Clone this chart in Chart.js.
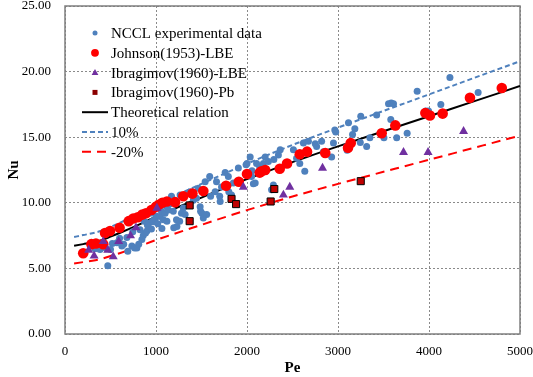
<!DOCTYPE html>
<html>
<head>
<meta charset="utf-8">
<title>Nu vs Pe</title>
<script src="https://cdn.jsdelivr.net/npm/chart.js"></script>
<style>
  html, body { margin: 0; padding: 0; background: #fff; }
  #wrap { width: 533px; height: 377px; }
</style>
</head>
<body>
<div id="wrap"><canvas id="chart" width="533" height="377"></canvas></div>
<script>
var ncclPe = [330, 370, 385, 430, 470, 500, 520, 570, 600, 625, 645, 680, 690, 735, 745, 765, 790, 810, 825, 830,
  845, 860, 870, 885, 900, 905, 920, 935, 950, 960, 975, 990, 1000, 1020, 1045, 1060, 1065, 1080, 1100, 1117,
  1120, 1135, 1150, 1170, 1190, 1195, 1225, 1230, 1260, 1265, 1280, 1300, 1320, 1340, 1375, 1410, 1445, 1465, 1485, 1490,
  1505, 1520, 1540, 1557, 1590, 1600, 1650, 1665, 1700, 1705, 1720, 1760, 1795, 1800, 1830, 1850, 1905, 1990, 2000, 2035,
  2050, 2055, 2070, 2090, 2105, 2140, 2180, 2200, 2205, 2235, 2270, 2290, 2295, 2345, 2365, 2510, 2545, 2580, 2620, 2635,
  2675, 2750, 2765, 2820, 2840, 2930, 2950, 2965, 2975, 3095, 3100, 3115, 3160, 3185, 3245, 3250, 3315, 3350, 3425, 3505,
  3555, 3580, 3585, 3610, 3645, 3760, 3870, 3965, 3995, 4130, 4230, 4540];
var ncclNu = [6.5, 6.6, 6.45, 6.6, 5.2, 6.45, 6.9, 6.95, 7.3, 6.7, 6.85, 7.35, 6.3, 6.7, 7.8, 6.55, 6.55, 6.85, 7.95, 8.9,
  7.2, 7.5, 8.6, 7.7, 7.85, 8.3, 8.45, 9.2, 8.0, 8.6, 8.55, 8.75, 9.0, 8.4, 8.95, 9.35, 8.05, 8.7, 9.2, 9.7,
  8.6, 9.45, 9.9, 10.5, 9.35, 8.1, 8.7, 8.2, 8.6, 10.6, 9.2, 9.6, 9.1, 10.7, 10.85, 10.2, 10.35, 11.1, 9.7, 9.35,
  9.2, 8.85, 11.6, 9.1, 12.0, 10.5, 10.85, 11.6, 10.5, 10.1, 11.2, 12.3, 12.0, 10.85, 10.6, 11.5, 12.65, 12.9, 13.0, 13.5,
  12.0, 12.45, 11.45, 11.5, 13.0, 12.7, 13.0, 13.5, 12.4, 13.15, 11.0, 11.35, 13.3, 13.65, 14.05, 14.05, 13.4, 13.0, 14.55, 12.4,
  14.7, 14.5, 14.3, 14.7, 13.9, 13.5, 14.55, 15.55, 15.4, 14.3, 14.0, 16.1, 15.2, 15.65, 14.6, 16.6, 14.3, 14.95, 16.7, 14.95,
  17.55, 16.35, 17.6, 17.55, 14.95, 15.3, 18.5, 17.0, 17.0, 17.5, 19.55, 18.4];

// Johnson(1953)-LBE
var johnsonPe = [200, 290, 340, 420, 440, 495, 600, 700, 750, 800, 850, 890, 950, 1000, 1030, 1070, 1120, 1210, 1300, 1400,
  1520, 1770, 1910, 2000, 2140, 2160, 2200, 2360, 2440, 2580, 2660, 2860, 3110, 3140, 3480, 3630, 3960, 4010, 4150, 4450, 4800];
var johnsonNu = [6.15, 6.85, 6.9, 6.85, 7.7, 7.85, 8.1, 8.6, 8.8, 8.9, 9.1, 9.2, 9.45, 9.7, 9.85, 10.0, 10.1, 10.05, 10.5, 10.7,
  10.9, 11.3, 11.6, 12.2, 12.3, 12.4, 12.5, 12.6, 13.0, 13.7, 13.9, 13.8, 14.2, 14.55, 15.3, 15.9, 16.85, 16.65, 16.8, 18.0, 18.75];

// Ibragimov(1960)-LBE
var ibrLbePe = [260, 320, 420, 470, 530, 590, 720, 780, 1010, 1960, 2400, 2470, 2830, 3720, 3990, 4380];
var ibrLbeNu = [6.4, 5.95, 7.05, 6.4, 5.9, 7.05, 7.5, 8.1, 9.6, 11.2, 10.6, 11.2, 12.65, 13.85, 13.85, 15.45];

// Ibragimov(1960)-Pb
var ibrPbPe = [1370, 1370, 1830, 1880, 2260, 2300, 3250];
var ibrPbNu = [9.8, 8.6, 10.3, 9.9, 10.1, 11.05, 11.65];

// theoretical relation and the +10% / -20% bands
var linePe = [100, 200, 300, 400, 500, 600, 800, 1000, 1500, 2000, 2500, 3000, 3500, 4000, 4500, 5000];
var theoryNu = [6.72, 6.85, 6.98, 7.15, 7.42, 7.7, 8.3, 8.95, 10.4, 11.8, 13.1, 14.3, 15.45, 16.6, 17.75, 18.9];
var upperNu = [7.39, 7.54, 7.68, 7.87, 8.16, 8.47, 9.13, 9.85, 11.44, 12.98, 14.41, 15.73, 17.0, 18.26, 19.53, 20.79];
var lowerNu = [5.38, 5.48, 5.58, 5.72, 5.94, 6.16, 6.64, 7.16, 8.32, 9.44, 10.48, 11.44, 12.36, 13.28, 14.2, 15.12];

var xTicks = [0, 1000, 2000, 3000, 4000, 5000];
var yTicks = [0, 5, 10, 15, 20, 25];

function pts(xs, ys) {
  return xs.map(function (x, i) { return { x: x, y: ys[i] }; });
}

var SERIF = '"Liberation Serif", "Times New Roman", serif';
var BLUE = '#4f81bd';
Chart.defaults.font.family = SERIF;
Chart.defaults.color = '#000';

// legend drawn inside the plot, top-left
var legendIcons = ['dot', 'circle', 'triangle', 'square', 'line', 'line', 'line'];
var insideLegend = {
  id: 'insideLegend',
  afterDraw: function (chart) {
    var ctx = chart.ctx;
    var area = chart.chartArea;
    var cx = area.left + 30;
    ctx.save();
    ctx.font = '15px ' + SERIF;
    ctx.textBaseline = 'middle';
    chart.data.datasets.forEach(function (ds, i) {
      var y = area.top + 27 + i * 19.8;
      var icon = legendIcons[i];
      ctx.fillStyle = ds.backgroundColor;
      ctx.strokeStyle = ds.borderColor;
      ctx.setLineDash([]);
      if (icon === 'dot') {
        ctx.beginPath(); ctx.arc(cx, y, 2.5, 0, Math.PI * 2); ctx.fill();
      } else if (icon === 'circle') {
        ctx.beginPath(); ctx.arc(cx, y, 3.9, 0, Math.PI * 2); ctx.fill();
      } else if (icon === 'triangle') {
        ctx.beginPath(); ctx.moveTo(cx, y - 3.6); ctx.lineTo(cx + 3.4, y + 2.4); ctx.lineTo(cx - 3.4, y + 2.4);
        ctx.closePath(); ctx.fill();
      } else if (icon === 'square') {
        ctx.fillStyle = '#8b0000';
        ctx.fillRect(cx - 2.5, y - 2.5, 5, 5);
      } else {
        ctx.lineWidth = ds.borderWidth;
        ctx.setLineDash(ds.borderDash || []);
        ctx.beginPath(); ctx.moveTo(cx - 13, y); ctx.lineTo(cx + 13, y); ctx.stroke();
      }
      ctx.setLineDash([]);
      ctx.fillStyle = '#000';
      ctx.fillText(ds.label, cx + 16, y + 1);
    });
    ctx.restore();
  }
};

// solid frame around the plot area
var plotFrame = {
  id: 'plotFrame',
  beforeDatasetsDraw: function (chart) {
    var a = chart.chartArea;
    var ctx = chart.ctx;
    ctx.save();
    ctx.strokeStyle = '#7f7f7f';
    ctx.lineWidth = 1.5;
    ctx.strokeRect(a.left, a.top, a.right - a.left, a.bottom - a.top);
    ctx.restore();
  }
};

function noEdgePadding(s) {
  s.paddingTop = 0; s.paddingBottom = 0; s.paddingLeft = 0; s.paddingRight = 0;
}

var chart = new Chart(document.getElementById('chart'), {
  type: 'scatter',
  data: {
    datasets: [
      { label: 'NCCL experimental data', data: pts(ncclPe, ncclNu), backgroundColor: BLUE, borderColor: BLUE,
        pointRadius: 3.5, pointBorderWidth: 0, order: 5 },
      { label: 'Johnson(1953)-LBE', data: pts(johnsonPe, johnsonNu), backgroundColor: '#ff0000', borderColor: '#ff0000',
        pointRadius: 5.3, pointBorderWidth: 0, order: 3 },
      { label: 'Ibragimov(1960)-LBE', data: pts(ibrLbePe, ibrLbeNu), backgroundColor: '#7030a0', borderColor: '#7030a0',
        pointStyle: 'triangle', pointRadius: 5.2, pointBorderWidth: 0, order: 2 },
      { label: 'Ibragimov(1960)-Pb', data: pts(ibrPbPe, ibrPbNu), backgroundColor: '#c00000', borderColor: '#000',
        pointStyle: 'rect', pointRadius: 5, pointBorderWidth: 1, order: 1 },
      { label: 'Theoretical relation', data: pts(linePe, theoryNu), showLine: true, borderColor: '#000',
        backgroundColor: '#000', borderWidth: 2, pointRadius: 0, cubicInterpolationMode: 'monotone', order: 10 },
      { label: '10%', data: pts(linePe, upperNu), showLine: true, borderColor: BLUE, backgroundColor: BLUE,
        borderWidth: 2, borderDash: [5, 3], pointRadius: 0, cubicInterpolationMode: 'monotone', order: 10 },
      { label: '-20%', data: pts(linePe, lowerNu), showLine: true, borderColor: '#ff0000', backgroundColor: '#ff0000',
        borderWidth: 2, borderDash: [9, 6], pointRadius: 0, cubicInterpolationMode: 'monotone', order: 10 }
    ]
  },
  options: {
    responsive: false,
    animation: false,
    events: [],
    layout: { padding: { top: 6, right: 13, left: 0, bottom: 0 } },
    plugins: { legend: { display: false }, tooltip: { enabled: false } },
    scales: {
      x: {
        type: 'linear', min: 0, max: 5000,
        afterBuildTicks: function (s) { s.ticks = xTicks.map(function (v) { return { value: v }; }); },
        afterFit: function (s) { s.height = 43; noEdgePadding(s); },
        ticks: { padding: 10, font: { size: 13 }, color: '#000', callback: function (v) { return String(v); } },
        grid: { color: '#8a8a8a', lineWidth: 1, drawTicks: false },
        border: { display: false, dash: [2, 2] },
        title: { display: true, text: 'Pe', font: { size: 15, weight: 'bold' }, color: '#000', padding: { top: 5, bottom: 0 } }
      },
      y: {
        type: 'linear', min: 0, max: 25,
        afterBuildTicks: function (s) { s.ticks = yTicks.map(function (v) { return { value: v }; }); },
        afterFit: function (s) { s.width = 65; noEdgePadding(s); },
        ticks: { padding: 14, font: { size: 13 }, color: '#000', callback: function (v) { return v.toFixed(2); } },
        grid: { color: '#8a8a8a', lineWidth: 1, drawTicks: false },
        border: { display: false, dash: [2, 2] },
        title: { display: true, text: 'Nu', font: { size: 15, weight: 'bold' }, color: '#000', padding: { top: 5, bottom: 0 } }
      }
    }
  },
  plugins: [plotFrame, insideLegend]
});
</script>
</body>
</html>
